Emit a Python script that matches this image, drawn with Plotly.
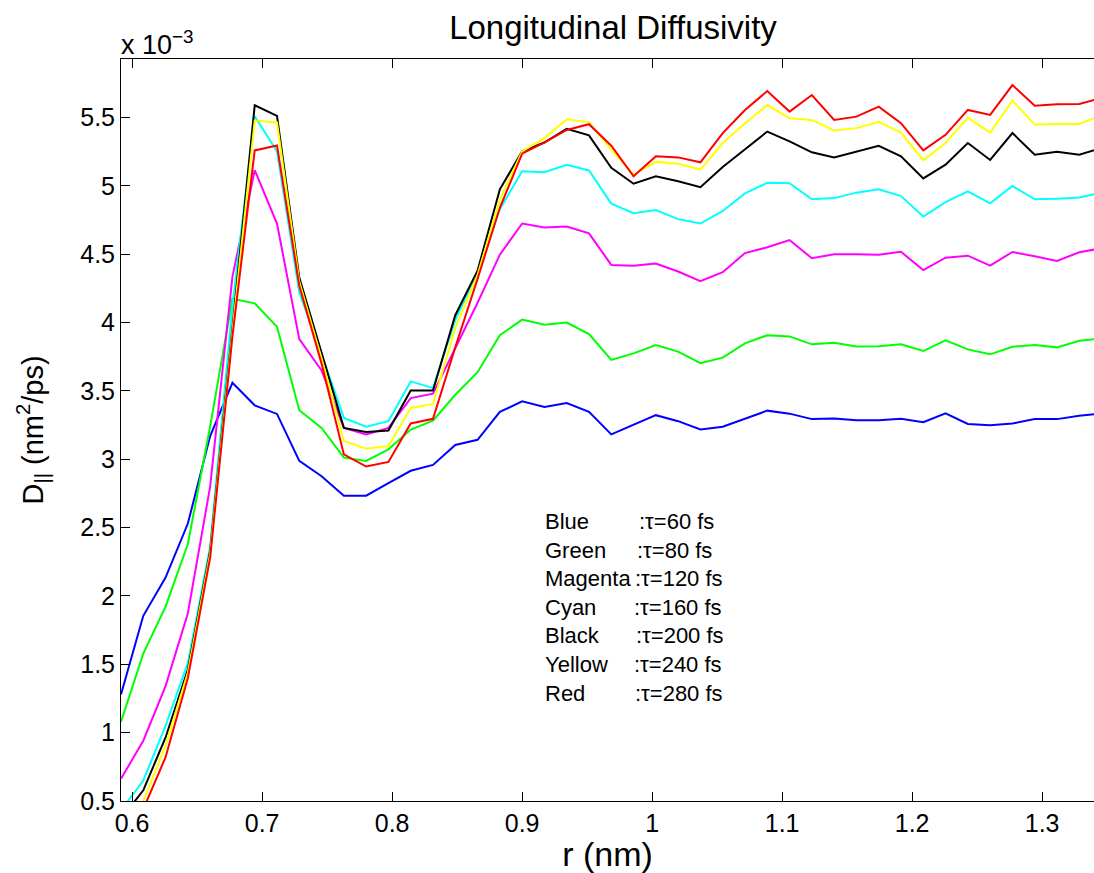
import plotly.graph_objects as go

# radial positions (nm)
r = [0.59143, 0.60857, 0.62571, 0.64286, 0.66000, 0.67714, 0.69429, 0.71143, 0.72857,
     0.74571, 0.76286, 0.78000, 0.79714, 0.81429, 0.83143, 0.84857, 0.86571, 0.88286,
     0.90000, 0.91714, 0.93429, 0.95143, 0.96857, 0.98571, 1.00286, 1.02000, 1.03714,
     1.05429, 1.07143, 1.08857, 1.10571, 1.12286, 1.14000, 1.15714, 1.17429, 1.19143,
     1.20857, 1.22571, 1.24286, 1.26000, 1.27714, 1.29429, 1.31143, 1.32857, 1.34571]

# longitudinal diffusivity, in units of 1e-3 nm^2/ps
D_blue = [1.28, 1.855, 2.135, 2.53, 3.17, 3.56, 3.395, 3.332, 2.988, 2.876, 2.734, 2.734,
          2.826, 2.916, 2.959, 3.105, 3.143, 3.347, 3.424, 3.383, 3.412, 3.347, 3.182, 3.254,
          3.323, 3.279, 3.218, 3.238, 3.296, 3.356, 3.334, 3.294, 3.298, 3.286, 3.286, 3.296,
          3.272, 3.337, 3.259, 3.25, 3.262, 3.294, 3.294, 3.318, 3.336]
D_green = [1.081, 1.578, 1.922, 2.38, 3.24, 4.175, 4.141, 3.969, 3.359, 3.23, 3.012, 2.988,
           3.073, 3.218, 3.283, 3.472, 3.637, 3.908, 4.022, 3.984, 4.001, 3.916, 3.727, 3.775,
           3.836, 3.788, 3.703, 3.744, 3.848, 3.908, 3.899, 3.841, 3.853, 3.826, 3.828, 3.841,
           3.792, 3.87, 3.804, 3.768, 3.824, 3.836, 3.819, 3.868, 3.885]
D_magenta = [0.663, 0.941, 1.341, 1.874, 2.80, 4.335, 5.115, 4.725, 3.879, 3.65, 3.23, 3.182,
             3.23, 3.448, 3.48, 3.81, 4.145, 4.497, 4.725, 4.696, 4.703, 4.653, 4.422, 4.417,
             4.432, 4.374, 4.304, 4.369, 4.509, 4.551, 4.604, 4.471, 4.50, 4.50, 4.497, 4.518,
             4.384, 4.475, 4.49, 4.417, 4.517, 4.485, 4.451, 4.515, 4.544]
D_cyan = [0.43, 0.65, 1.05, 1.51, 2.36, 4.12, 5.51, 5.253, 4.22, 3.77, 3.303, 3.238,
          3.279, 3.57, 3.521, 4.02, 4.37, 4.83, 5.108, 5.10, 5.154, 5.113, 4.871, 4.80,
          4.824, 4.757, 4.725, 4.817, 4.945, 5.023, 5.02, 4.902, 4.911, 4.951, 4.975, 4.926,
          4.776, 4.882, 4.96, 4.873, 4.999, 4.902, 4.907, 4.916, 4.951]
D_black = [0.37, 0.578, 0.965, 1.462, 2.33, 3.96, 5.59, 5.512, 4.33, 3.78, 3.23, 3.199,
           3.211, 3.504, 3.504, 4.054, 4.38, 4.975, 5.253, 5.318, 5.418, 5.37, 5.132, 5.016,
           5.071, 5.035, 4.991, 5.139, 5.27, 5.398, 5.326, 5.246, 5.209, 5.253, 5.294, 5.217,
           5.055, 5.156, 5.314, 5.19, 5.387, 5.229, 5.251, 5.229, 5.278]
D_yellow = [0.30, 0.50, 0.905, 1.44, 2.31, 3.93, 5.478, 5.464, 4.30, 3.74, 3.134, 3.078,
            3.097, 3.376, 3.405, 3.96, 4.35, 4.90, 5.253, 5.35, 5.488, 5.467, 5.265, 5.084,
            5.176, 5.163, 5.12, 5.314, 5.459, 5.592, 5.496, 5.483, 5.406, 5.423, 5.469, 5.391,
            5.188, 5.314, 5.50, 5.391, 5.624, 5.449, 5.454, 5.454, 5.516]
D_red = [0.25, 0.44, 0.82, 1.40, 2.28, 3.90, 5.26, 5.296, 4.27, 3.70, 3.036, 2.947,
         2.981, 3.262, 3.296, 3.82, 4.32, 4.84, 5.236, 5.318, 5.41, 5.452, 5.294, 5.071,
         5.217, 5.209, 5.173, 5.387, 5.556, 5.694, 5.544, 5.665, 5.483, 5.507, 5.58, 5.459,
         5.26, 5.374, 5.556, 5.52, 5.738, 5.587, 5.597, 5.60, 5.644]

series_names = ["Blue", "Green", "Magenta", "Cyan", "Black", "Yellow", "Red"]
series_tau = [":τ=60 fs", ":τ=80 fs", ":τ=120 fs", ":τ=160 fs", ":τ=200 fs", ":τ=240 fs", ":τ=280 fs"]
series_data = [D_blue, D_green, D_magenta, D_cyan, D_black, D_yellow, D_red]
series_colors = ["#0000FF", "#00FF00", "#FF00FF", "#00FFFF", "#000000", "#FFFF00", "#FF0000"]

x_tickvals = [0.6, 0.7, 0.8, 0.9, 1.0, 1.1, 1.2, 1.3]
x_ticktext = ["0.6", "0.7", "0.8", "0.9", "1", "1.1", "1.2", "1.3"]
y_tickvals = [0.5, 1, 1.5, 2, 2.5, 3, 3.5, 4, 4.5, 5, 5.5]
y_ticktext = ["0.5", "1", "1.5", "2", "2.5", "3", "3.5", "4", "4.5", "5", "5.5"]

FONT = "Liberation Sans, Arial, Helvetica, sans-serif"
W, H = 1094, 873
ML, MR, MT, MB = 121, 0, 59, 67
PX_PER_NM = 1300.0
PX_PER_UNIT = 137.6
x0 = r[0]
x1 = x0 + (W - ML - MR) / PX_PER_NM
y0 = 0.5
y1 = y0 + (H - MT - MB) / PX_PER_UNIT

fig = go.Figure()
for name, d, c in zip(series_names, series_data, series_colors):
    fig.add_trace(go.Scatter(x=r, y=d, mode="lines", name=name,
                             line=dict(color=c, width=2), showlegend=False))

def px_to_paper(X, Y):
    return (X - ML) / (W - ML - MR), (H - MB - Y) / (H - MT - MB)

annotations = []
# text block legend
row_y = [525, 553.5, 582.3, 611.3, 639.5, 668.3, 697.3]
colon_x = [639, 636.7, 635, 634, 635.7, 634.3, 635.3]
for nm, tau, yy, cx in zip(series_names, series_tau, row_y, colon_x):
    px, py = px_to_paper(543, yy)
    annotations.append(dict(x=px, y=py, xref="paper", yref="paper", text=nm,
                            showarrow=False, xanchor="left", yanchor="middle",
                            font=dict(family=FONT, size=22, color="black")))
    px, py = px_to_paper(cx - 2, yy)
    annotations.append(dict(x=px, y=py, xref="paper", yref="paper", text=tau,
                            showarrow=False, xanchor="left", yanchor="middle",
                            font=dict(family=FONT, size=22, color="black")))

# exponent label
px, py = px_to_paper(119, 62)
annotations.append(dict(x=px, y=py, xref="paper", yref="paper",
                        text="x 10<sup>−3</sup>", showarrow=False,
                        xanchor="left", yanchor="bottom",
                        font=dict(family=FONT, size=27, color="black")))

fig.update_layout(
    width=W, height=H,
    margin=dict(l=ML, r=MR, t=MT, b=MB, pad=0),
    paper_bgcolor="white", plot_bgcolor="white",
    font=dict(family=FONT, size=25, color="black"),
    title=dict(text="Longitudinal Diffusivity", x=(613 - ML) / (W - ML - MR), xref="paper",
               xanchor="center", y=1 - 27 / H, yref="container", yanchor="middle",
               font=dict(family=FONT, size=33, color="black")),
    xaxis=dict(range=[x0, x1], tickvals=x_tickvals, ticktext=x_ticktext,
               ticks="inside", ticklen=9, tickwidth=1, tickcolor="black",
               showline=True, linecolor="black", linewidth=1, mirror="ticks",
               showgrid=False, zeroline=False,
               tickfont=dict(family=FONT, size=25, color="black"),
               title=dict(text="r (nm)", standoff=12,
                          font=dict(family=FONT, size=34, color="black"))),
    yaxis=dict(range=[y0, y1], tickvals=y_tickvals, ticktext=y_ticktext,
               ticks="inside", ticklen=9, tickwidth=1, tickcolor="black",
               showline=True, linecolor="black", linewidth=1, mirror=False,
               showgrid=False, zeroline=False,
               tickfont=dict(family=FONT, size=25, color="black"),
               title=dict(text="D<sub>||</sub> (nm<sup>2</sup>/ps)", standoff=28,
                          font=dict(family=FONT, size=29, color="black"))),
    annotations=annotations,
    showlegend=False,
)

fig.write_html("out.html", config={"displayModeBar": False},
               post_script="document.body.style.margin='0';document.body.style.overflow='hidden';")
